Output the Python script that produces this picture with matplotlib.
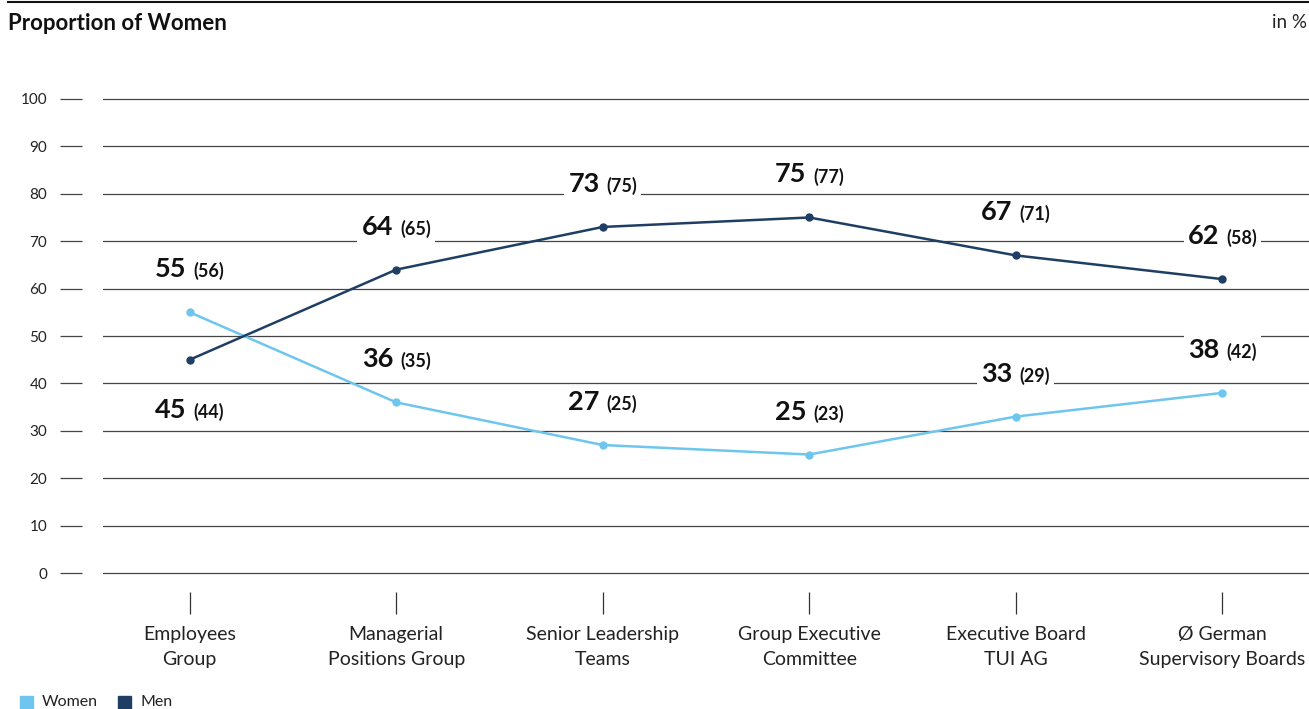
import matplotlib
matplotlib.use("Agg")
import matplotlib.pyplot as plt
from matplotlib.offsetbox import TextArea, HPacker, AnnotationBbox
from matplotlib.lines import Line2D
from matplotlib.patches import Rectangle

categories = ["Employees\nGroup", "Managerial\nPositions Group", "Senior Leadership\nTeams",
              "Group Executive\nCommittee", "Executive Board\nTUI AG", "Ø German\nSupervisory Boards"]
women = [55, 36, 27, 25, 33, 38]
women_prev = [56, 35, 25, 23, 29, 42]
men = [45, 64, 73, 75, 67, 62]
men_prev = [44, 65, 75, 77, 71, 58]
yticks = [0, 10, 20, 30, 40, 50, 60, 70, 80, 90, 100]

WOMEN_C = "#6EC6EE"
MEN_C = "#1F3E63"
FONT = "Lato"
plt.rcParams["font.family"] = [FONT, "DejaVu Sans"]

W, H = 1309, 709
fig = plt.figure(figsize=(W / 100, H / 100), dpi=100)
ax = fig.add_axes([103 / W, 1 - 592 / H, 1 - 103 / W, (592 - 80) / H])
ax.set_xlim(-0.42, 5.42)
ax.set_ylim(-4, 104)

for s in ax.spines.values():
    s.set_visible(False)
ax.spines["left"].set_position(("outward", 15))

ax.set_yticks(yticks)
ax.set_yticklabels([str(v) for v in yticks], fontsize=11, color="#222")
ax.tick_params(axis="y", direction="out", length=15.84, width=0.9, color="#444", pad=9.4)
ax.yaxis.grid(True, color="#444", lw=0.9)
ax.set_axisbelow(True)

x = list(range(len(categories)))
ax.set_xticks(x)
ax.set_xticklabels(categories, fontsize=14, color="#222", linespacing=1.55)
ax.tick_params(axis="x", direction="out", length=15.84, width=0.9, color="#333", pad=8.5)

ax.plot(x, women, color=WOMEN_C, lw=1.8, marker="o", ms=5, zorder=3)
ax.plot(x, men, color=MEN_C, lw=1.8, marker="o", ms=5, zorder=3)


def label(xi, val, prev, offset_px):
    big = TextArea(str(val), textprops=dict(fontsize=19.5, fontweight="bold", color="#111", family=FONT))
    small = TextArea(f"({prev})", textprops=dict(fontsize=13, fontweight="bold", color="#111", family=FONT))
    pack = HPacker(children=[big, small], align="baseline", pad=0, sep=5)
    ab = AnnotationBbox(pack, (xi, val), xybox=(0, offset_px * 0.72), xycoords="data",
                        boxcoords="offset points", frameon=True, pad=0.3,
                        bboxprops=dict(facecolor="white", edgecolor="none"), zorder=4)
    ax.add_artist(ab)


for i in x:
    if women[i] >= men[i]:
        label(i, women[i], women_prev[i], 43)
        label(i, men[i], men_prev[i], -50)
    else:
        label(i, women[i], women_prev[i], 43)
        label(i, men[i], men_prev[i], 43)

# header
fig.add_artist(Line2D([8 / W, 1.0], [1 - 2 / H, 1 - 2 / H], color="#111", lw=1.5))
fig.text(8 / W, 1 - 23 / H, "Proportion of Women", fontsize=16, fontweight="bold",
         va="center", ha="left", color="#111")
fig.text(1307 / W, 1 - 23 / H, "in %", fontsize=13.5, va="center", ha="right", color="#222")

# legend
fig.add_artist(Rectangle((20 / W, 1 - 709 / H), 13 / W, 13 / H, color=WOMEN_C, transform=fig.transFigure))
fig.text(42 / W, 1 - 702 / H, "Women", fontsize=11.5, va="center", ha="left", color="#222")
fig.add_artist(Rectangle((118 / W, 1 - 709 / H), 13 / W, 13 / H, color=MEN_C, transform=fig.transFigure))
fig.text(141 / W, 1 - 702 / H, "Men", fontsize=11.5, va="center", ha="left", color="#222")

fig.savefig("out.png", dpi=100)
